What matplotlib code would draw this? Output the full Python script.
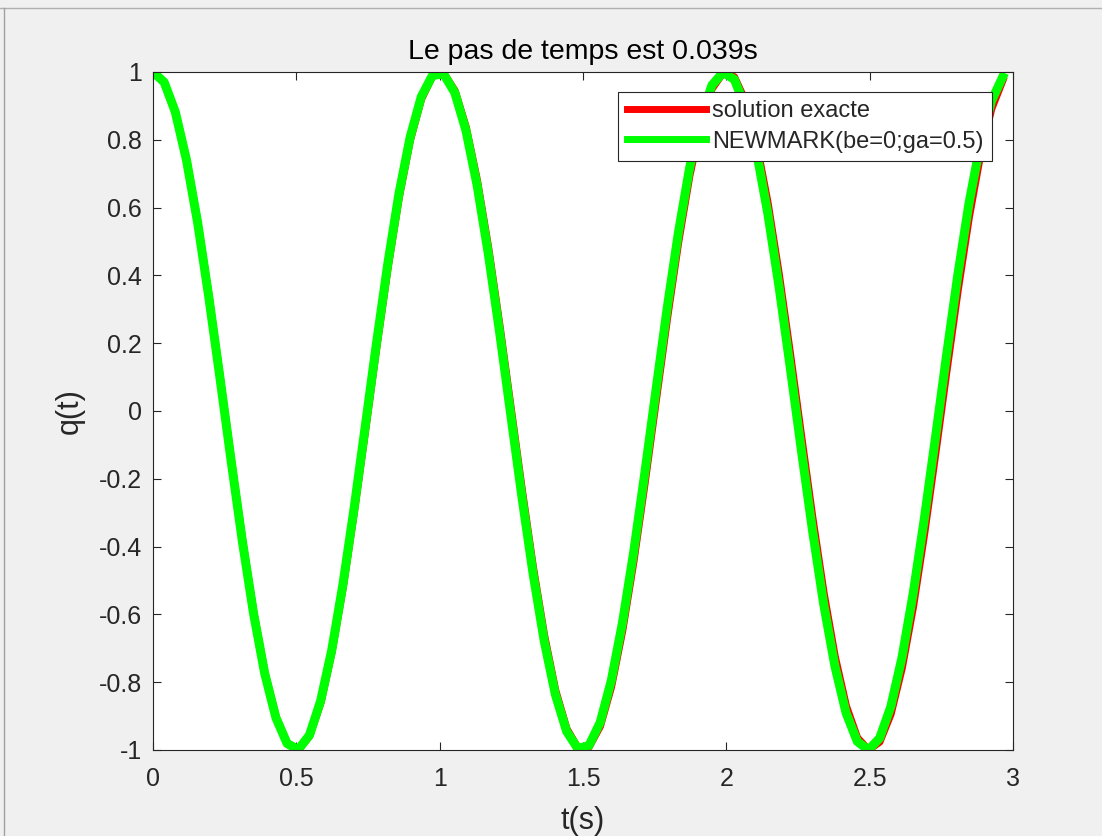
import matplotlib.pyplot as plt
from matplotlib.lines import Line2D
import numpy as np

# time step from the title, 77 samples
dt = 0.039
t = np.round(np.arange(77) * dt, 3)

q_exact = [1.000, 0.970, 0.882, 0.742, 0.557, 0.339, 0.100, -0.144, -0.380, -0.593,
           -0.771, -0.902, -0.980, -0.999, -0.959, -0.861, -0.711, -0.520, -0.297, -0.057,
           0.187, 0.420, 0.628, 0.798, 0.920, 0.988, 0.996, 0.945, 0.837, 0.680,
           0.482, 0.255, 0.013, -0.230, -0.460, -0.661, -0.824, -0.937, -0.994, -0.991,
           -0.930, -0.813, -0.647, -0.443, -0.212, 0.031, 0.273, 0.498, 0.694, 0.848,
           0.951, 0.998, 0.985, 0.913, 0.786, 0.613, 0.403, 0.169, -0.075, -0.315,
           -0.536, -0.724, -0.870, -0.964, -1.000, -0.976, -0.894, -0.758, -0.578, -0.362,
           -0.125, 0.119, 0.356, 0.572, 0.754, 0.891, 0.975]

q_newmark = [1.000, 0.970, 0.882, 0.740, 0.555, 0.335, 0.096, -0.149, -0.385, -0.598,
             -0.775, -0.905, -0.981, -0.999, -0.956, -0.855, -0.704, -0.510, -0.285, -0.043,
             0.201, 0.433, 0.640, 0.807, 0.927, 0.990, 0.994, 0.939, 0.827, 0.665,
             0.463, 0.234, -0.010, -0.253, -0.480, -0.679, -0.837, -0.945, -0.996, -0.987,
             -0.919, -0.795, -0.624, -0.416, -0.182, 0.063, 0.304, 0.526, 0.717, 0.865,
             0.961, 0.999, 0.978, 0.897, 0.762, 0.582, 0.367, 0.129, -0.116, -0.354,
             -0.571, -0.753, -0.891, -0.975, -1.000, -0.965, -0.872, -0.727, -0.538, -0.317,
             -0.077, 0.168, 0.403, 0.614, 0.787, 0.914, 0.985]

xticks = [0, 0.5, 1, 1.5, 2, 2.5, 3]
yticks = [-1, -0.8, -0.6, -0.4, -0.2, 0, 0.2, 0.4, 0.6, 0.8, 1]
ytick_labels = ['-1', '-0.8', '-0.6', '-0.4', '-0.2', '0', '0.2', '0.4', '0.6', '0.8', '1']
xtick_labels = ['0', '0.5', '1', '1.5', '2', '2.5', '3']

plt.rcParams['font.family'] = ['Liberation Sans', 'DejaVu Sans']

fig = plt.figure(figsize=(11.02, 8.36), dpi=100, facecolor='#f0f0f0')
ax = fig.add_axes([0.1388, 0.1029, 0.7804, 0.811])

ax.plot(t, q_exact, color='#ff0000', linewidth=5.5, label='solution exacte', solid_joinstyle='round')
ax.plot(t, q_newmark, color='#00ff00', linewidth=6.5, label='NEWMARK(be=0;ga=0.5)', solid_joinstyle='round')

ax.set_xlim(0, 3)
ax.set_ylim(-1, 1)
ax.set_xticks(xticks)
ax.set_xticklabels(xtick_labels)
ax.set_yticks(yticks)
ax.set_yticklabels(ytick_labels)
ax.tick_params(direction='in', length=6, width=0.8, top=True, right=True,
               labelsize=18, colors='#262626')
ax.tick_params(axis='x', pad=12)
ax.tick_params(axis='y', pad=8)
for s in ax.spines.values():
    s.set_color('#262626')
    s.set_linewidth(0.8)

ax.set_title('Le pas de temps est 0.039s', fontsize=20.5, color='#000000', pad=9)
ax.set_xlabel('t(s)', fontsize=22, color='#262626', labelpad=11)
ax.set_ylabel('q(t)', fontsize=22, color='#262626', labelpad=10)

leg = ax.legend(loc='upper right', bbox_to_anchor=(0.976, 0.971), fontsize=17,
                fancybox=False, framealpha=1, edgecolor='#262626', handlelength=3.35,
                handletextpad=0.28, borderpad=0.36, labelspacing=0.36, borderaxespad=0)
leg.get_frame().set_linewidth(0.8)
for ln in leg.get_lines():
    ln.set_linewidth(5)
for txt in leg.get_texts():
    txt.set_color('#262626')

# window border remnants at top/left
fig.add_artist(Line2D([0, 1], [1 - 8 / 836, 1 - 8 / 836], color='#b0b0b0', linewidth=1))
fig.add_artist(Line2D([4 / 1102, 4 / 1102], [0, 1 - 8 / 836], color='#a0a0a0', linewidth=1))

fig.savefig('out.png', dpi=100, facecolor=fig.get_facecolor())
